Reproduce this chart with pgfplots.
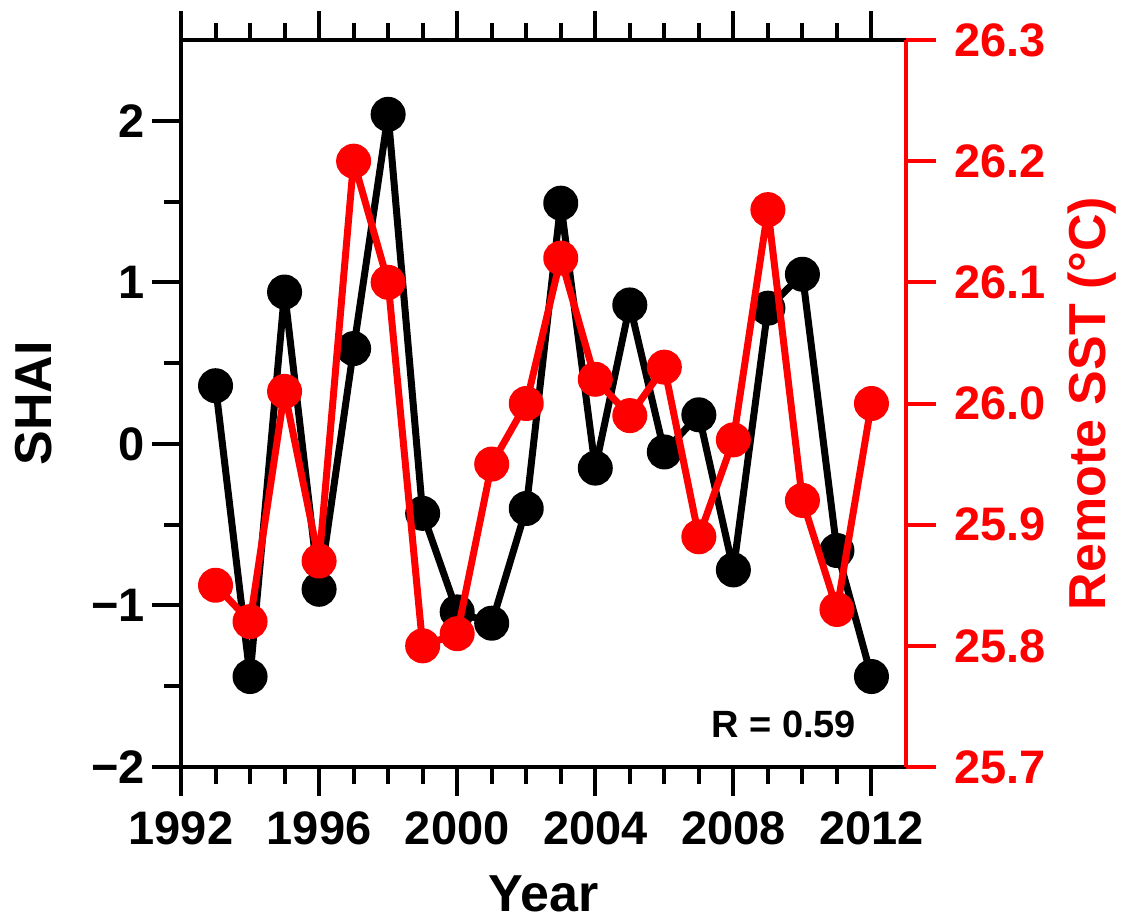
\documentclass[border=0pt]{standalone}
\usepackage{pgfplots}
\pgfplotsset{compat=1.18}
\usepackage{fontspec}
\setmainfont{Liberation Sans}
\usetikzlibrary{calc}

\pgfplotstableread{
year  shai
1993  0.36
1994 -1.44
1995  0.94
1996 -0.90
1997  0.59
1998  2.04
1999 -0.43
2000 -1.04
2001 -1.11
2002 -0.40
2003  1.49
2004 -0.15
2005  0.86
2006 -0.05
2007  0.18
2008 -0.78
2009  0.84
2010  1.05
2011 -0.66
2012 -1.44
}\shaitable

\pgfplotstableread{
year  sst
1993  25.85
1994  25.82
1995  26.01
1996  25.87
1997  26.20
1998  26.10
1999  25.80
2000  25.81
2001  25.95
2002  26.00
2003  26.12
2004  26.02
2005  25.99
2006  26.03
2007  25.89
2008  25.97
2009  26.16
2010  25.92
2011  25.83
2012  26.00
}\ssttable

\newcommand{\tickfont}{\fontsize{23.5}{23.5}\selectfont\bfseries}
\newcommand{\labfont}{\fontsize{26}{26}\selectfont\bfseries}

\begin{document}
\begin{tikzpicture}
\path[use as bounding box] (-90.5pt,-76.5pt) rectangle (472.5pt,383.5pt);

% SHAI on the left axis
\begin{axis}[
  scale only axis,
  width=362.5pt, height=363.5pt,
  xmin=1992, xmax=2013,
  ymin=-2, ymax=2.5,
  axis y line*=left,
  xtick={1992,1996,2000,2004,2008,2012},
  minor x tick num=3,
  ytick={-2,-1,0,1,2},
  yticklabels={−2,−1,0,1,2},
  minor y tick num=1,
  tick align=outside,
  major tick length=14.5pt,
  minor tick length=8.5pt,
  axis line style={line width=2pt},
  every tick/.style={black, line width=2pt},
  /pgf/number format/assume math mode=true,
  /pgf/number format/1000 sep={},
  ticklabel style={font=\tickfont},
  x tick label style={yshift=-4.5pt},
  xlabel={Year},
  ylabel={SHAI},
  xlabel style={font=\labfont, at={($(rel axis cs:0.5,0)+(0,-72.5pt)$)}, anchor=base},
  ylabel style={font=\labfont, at={($(rel axis cs:0,0.5)+(-73.5pt,0)$)}, anchor=center},
  clip=false,
]
\addplot[black, line width=3.5pt, line join=round, mark=*, mark size=7pt] table[x=year, y=shai] {\shaitable};
\node[font=\fontsize{19}{19}\selectfont\bfseries, anchor=base east] at (rel axis cs:0.941,0.041) {R = 0.59};
\end{axis}

% Remote SST on the right axis
\begin{axis}[
  scale only axis,
  width=362.5pt, height=363.5pt,
  xmin=1992, xmax=2013,
  ymin=25.7, ymax=26.3,
  axis y line*=right,
  axis x line=none,
  ytick={25.7,25.8,25.9,26.0,26.1,26.2,26.3},
  tick align=outside,
  major tick length=15pt,
  axis line style={red, line width=2pt},
  every tick/.style={red, line width=2pt},
  y tick label style={
    font=\tickfont, text=red, xshift=5.5pt,
    /pgf/number format/.cd, fixed, fixed zerofill, precision=1, assume math mode=true},
  ylabel={Remote SST (°C)},
  ylabel style={font=\labfont, text=red, at={($(rel axis cs:1,0.5)+(93pt,0)$)}, anchor=center},
  clip=false,
]
\addplot[red, line width=3.5pt, line join=round, mark=*, mark size=7pt] table[x=year, y=sst] {\ssttable};
\end{axis}
\end{tikzpicture}
\end{document}
